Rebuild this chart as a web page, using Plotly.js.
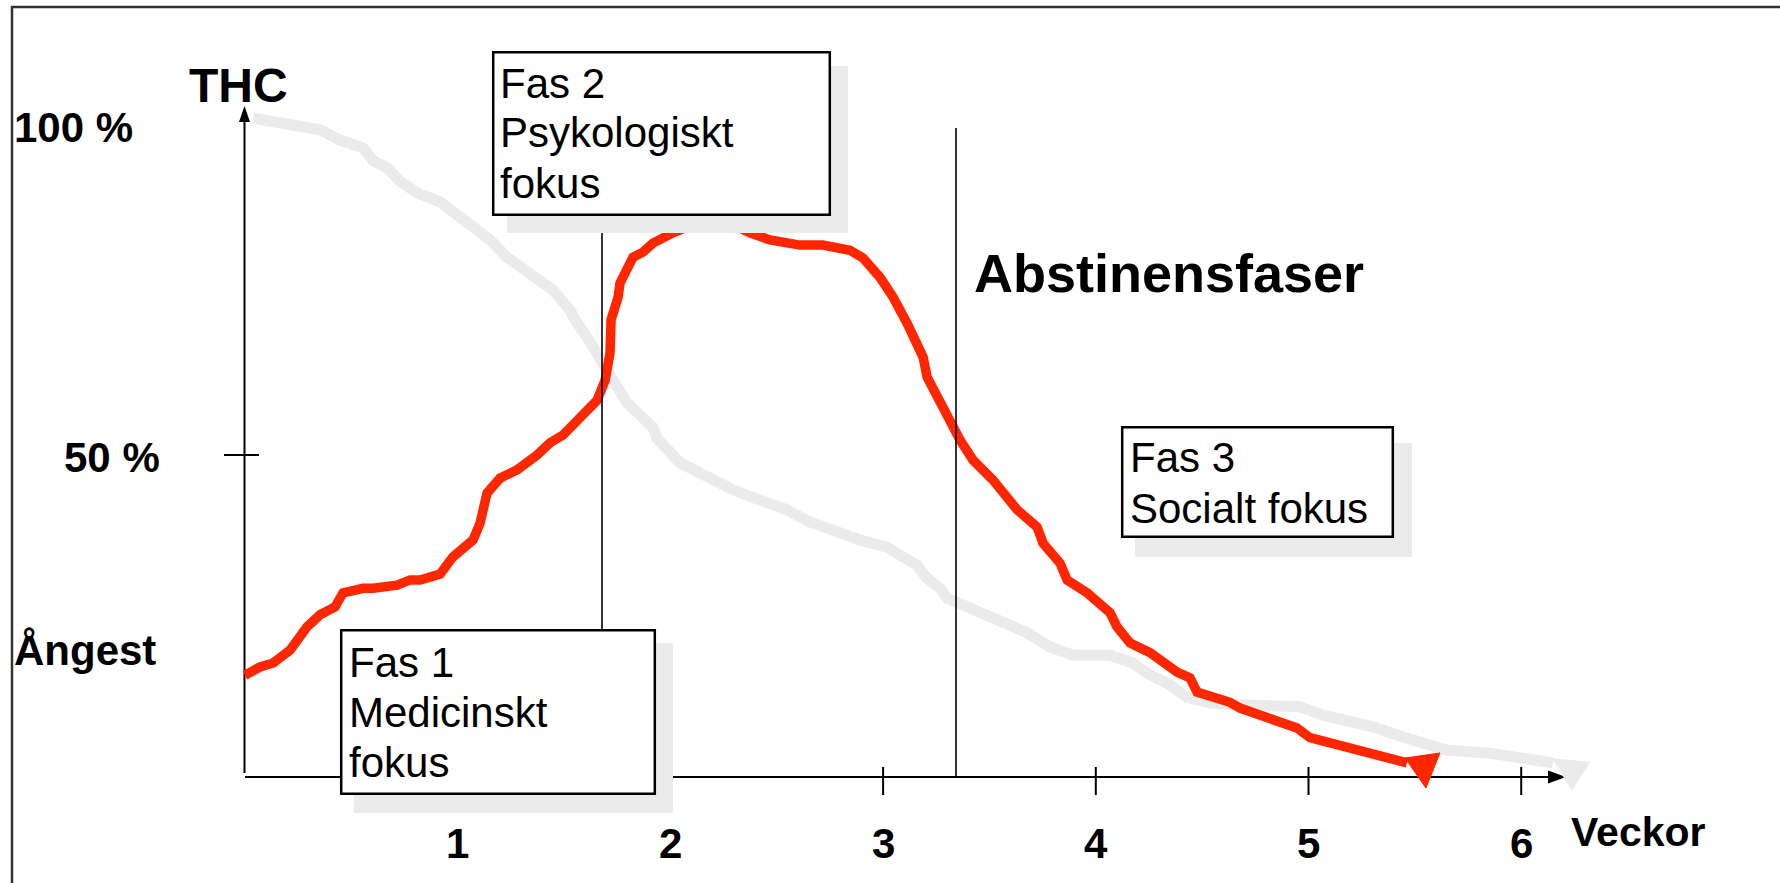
<!DOCTYPE html>
<html>
<head>
<meta charset="utf-8">
<script src="https://cdn.plot.ly/plotly-3.0.1.min.js"></script>
<style>
  html, body { margin: 0; padding: 0; background: #fff; }
  #chart { width: 1780px; height: 883px; }
</style>
</head>
<body>
<div id="chart"></div>
<script>
// ---------------- data (weeks on x, percent on y) ----------------
const tickWeeks = [1, 2, 3, 4, 5, 6];
const tickLabels = ['1', '2', '3', '4', '5', '6'];
const tickMarkWeeks = [3, 4, 5, 6];

const yLabelValues = [100, 50];
const yLabelTexts = ['100 %', '50 %'];

// THC level (light grey curve)
const thcWeeks = [0.038, 0.212, 0.291, 0.353, 0.447, 0.555, 0.602, 0.668, 0.729, 0.809,
  0.917, 0.997, 1.072, 1.152, 1.232, 1.307, 1.387, 1.448, 1.528, 1.551,
  1.608, 1.655, 1.702, 1.749, 1.796, 1.918, 1.937, 2.045, 2.172, 2.294,
  2.421, 2.548, 2.656, 2.783, 2.891, 3.018, 3.079, 3.159, 3.206, 3.268,
  3.300, 3.394, 3.550, 3.677, 3.785, 3.893, 4.067, 4.175, 4.241, 4.335,
  4.429, 4.537, 4.678, 4.805, 4.960, 5.068, 5.303, 5.444, 5.585, 5.651,
  5.853, 5.933, 6.088, 6.149];
const thcLevel = [102.3, 101.2, 101.1, 100.5, 98.9, 97.7, 95.7, 94.6, 92.5, 90.7,
  89.3, 87.4, 85.1, 83.4, 80.7, 79.0, 76.7, 75.6, 72.5, 71.0,
  68.3, 65.8, 63.7, 60.6, 58.1, 54.3, 52.6, 48.8, 46.6, 44.6,
  43.0, 41.5, 39.6, 38.0, 36.8, 35.7, 34.5, 32.9, 30.9, 29.3,
  27.8, 26.4, 23.9, 22.4, 20.2, 18.9, 18.9, 17.7, 16.1, 14.6,
  12.4, 11.5, 11.2, 11.2, 10.9, 9.6, 7.8, 6.2, 5.0, 4.2,
  3.7, 3.4, 2.6, 2.2];
const thcArrowWeeks = [6.149, 6.323, 6.238, 6.149];
const thcArrowLevel = [2.8, 2.3, -2.0, 2.8];

// Ångest (anxiety, red curve)
const angestWeeks = [0.000, 0.071, 0.132, 0.212, 0.291, 0.353, 0.423, 0.461, 0.555, 0.602,
  0.715, 0.776, 0.823, 0.917, 0.978, 1.072, 1.105, 1.138, 1.199, 1.279,
  1.373, 1.434, 1.495, 1.561, 1.622, 1.655, 1.693, 1.716, 1.721, 1.754,
  1.763, 1.824, 1.871, 1.918, 2.012, 2.092, 2.186, 2.304, 2.374, 2.468,
  2.609, 2.717, 2.844, 2.905, 2.985, 3.047, 3.112, 3.160, 3.188, 3.207,
  3.254, 3.282, 3.315, 3.362, 3.423, 3.517, 3.630, 3.724, 3.752, 3.832,
  3.865, 3.959, 4.067, 4.100, 4.161, 4.255, 4.382, 4.443, 4.476, 4.631,
  4.678, 4.833, 4.946, 5.007, 5.087, 5.289, 5.336, 5.463];
const angestLevel = [15.8, 17.1, 17.7, 19.7, 23.3, 25.2, 26.4, 28.6, 29.3, 29.3,
  29.8, 30.6, 30.6, 31.5, 34.2, 36.8, 39.4, 44.1, 46.4, 47.7,
  50.0, 51.9, 53.1, 55.4, 57.0, 58.5, 61.6, 65.8, 71.0, 74.5,
  76.7, 80.7, 81.5, 82.9, 84.5, 85.6, 86.0, 85.6, 84.5, 83.4,
  82.6, 82.6, 81.8, 80.6, 77.6, 74.5, 70.5, 67.1, 65.2, 62.1,
  59.0, 57.5, 55.4, 52.3, 49.2, 46.1, 41.5, 38.8, 36.3, 33.2,
  30.6, 28.6, 25.5, 23.3, 20.8, 19.3, 16.3, 15.4, 13.2, 11.6,
  10.7, 8.9, 7.6, 6.1, 5.4, 3.7, 3.1, 2.2];
const angestArrowWeeks = [5.454, 5.618, 5.552, 5.454];
const angestArrowLevel = [2.95, 3.73, -1.71, 2.95];

// phase texts
const phaseLines = [
  ['Fas 2', 'Psykologiskt', 'fokus'],
  ['Fas 1', 'Medicinskt', 'fokus'],
  ['Fas 3', 'Socialt fokus']
];

// ---------------- layout helpers (pixel -> axis units) ----------------
const X0 = 245, XS = 212.7, Y0 = 777, YS = 6.44;
const X = px => (px - X0) / XS;
const Y = py => (Y0 - py) / YS;

const FONT = 'Liberation Sans, Arial, Helvetica, sans-serif';
const RED = '#FF2600';
const GREY = '#EBEBEB';

const traces = [
  { x: thcWeeks, y: thcLevel, mode: 'lines', type: 'scatter', hoverinfo: 'skip',
    line: { color: GREY, width: 11 } },
  { x: thcArrowWeeks, y: thcArrowLevel, mode: 'lines', type: 'scatter', fill: 'toself',
    fillcolor: GREY, hoverinfo: 'skip', line: { color: GREY, width: 1 } },
  { x: angestWeeks, y: angestLevel, mode: 'lines', type: 'scatter', hoverinfo: 'skip',
    line: { color: RED, width: 9.5 } },
  { x: angestArrowWeeks, y: angestArrowLevel, mode: 'lines', type: 'scatter', fill: 'toself',
    fillcolor: RED, hoverinfo: 'skip', line: { color: RED, width: 1 } }
];

const shapes = [];
function line(x0, y0, x1, y1, w, layer, color) {
  shapes.push({ type: 'line', xref: 'x', yref: 'y', x0: x0, y0: y0, x1: x1, y1: y1,
    layer: layer || 'below', line: { color: color || '#000', width: w } });
}
function path(d, fill, layer, lineColor, lw) {
  shapes.push({ type: 'path', xref: 'x', yref: 'y', path: d, layer: layer || 'below',
    fillcolor: fill, line: { color: lineColor || 'rgba(0,0,0,0)', width: lw || 0 } });
}
function rect(px0, py0, px1, py1, fill, lineColor, lw) {
  shapes.push({ type: 'rect', xref: 'x', yref: 'y', x0: X(px0), x1: X(px1), y0: Y(py1), y1: Y(py0),
    layer: 'above', fillcolor: fill, line: { color: lineColor || 'rgba(0,0,0,0)', width: lw || 0 } });
}
const P = (px, py) => X(px) + ',' + Y(py);

// outer frame
path('M' + P(12, 900) + ' L' + P(12, 7) + ' L' + P(1800, 7), 'rgba(0,0,0,0)', 'below', '#333', 2.5);

// y axis with arrow
line(X(244.5), Y(773), X(244.5), Y(118), 2);
path('M' + P(239, 122) + ' L' + P(250, 122) + ' L' + P(244.5, 106) + ' Z', '#000');
// 50 % tick
line(X(224), 50, X(259), 50, 2);
// x axis with arrow
line(X(245), 0, X(1552), 0, 2.2);
path('M' + P(1548, 770.5) + ' L' + P(1548, 783.5) + ' L' + P(1566, 777) + ' Z', '#000');
// tick marks crossing the axis
tickMarkWeeks.forEach(w => line(w, Y(767), w, Y(795), 2));

// phase separator lines (above the curves)
line(X(602), Y(230), X(602), 0, 1.6, 'above');
line(X(956), Y(128), X(956), 0, 1.6, 'above');

// boxes with shadows
const boxes = [
  { box: [492, 51, 831, 216], shadow: [507, 66, 848, 233] },
  { box: [340, 629, 656, 795], shadow: [354, 643, 673, 813] },
  { box: [1121, 426, 1394, 538], shadow: [1135, 443, 1412, 557] }
];
boxes.forEach(b => {
  rect(b.shadow[0], b.shadow[1], b.shadow[2], b.shadow[3], GREY);
  rect(b.box[0] + 1.2, b.box[1] + 1.2, b.box[2] - 1.2, b.box[3] - 1.2, '#fff', '#000', 2.5);
});

// ---------------- annotations ----------------
const annotations = [];
function txt(text, px, py, size, bold, xanchor, xval, yval) {
  annotations.push({
    x: xval !== undefined ? xval : X(px), y: yval !== undefined ? yval : Y(py),
    xref: 'x', yref: 'y', text: text, showarrow: false,
    xanchor: xanchor || 'left', yanchor: 'middle',
    borderpad: 0, borderwidth: 0,
    font: { family: FONT, size: size, color: '#000', weight: bold ? 'bold' : 'normal' }
  });
}
const phaseTextPos = [
  { x: 500, ys: [83, 132, 183] },
  { x: 349, ys: [662, 712, 762] },
  { x: 1130, ys: [457, 508] }
];
phaseLines.forEach((lines, i) => {
  lines.forEach((t, j) => txt(t, phaseTextPos[i].x, phaseTextPos[i].ys[j], 42, false));
});

txt('THC', 189, 85, 48, true);
txt(yLabelTexts[0], 14, 128, 42, true, 'left', X(14), yLabelValues[0] + 0.8);
txt(yLabelTexts[1], 64, 458, 42, true, 'left', X(64), yLabelValues[1] - 0.45);
txt('Ångest', 14, 650, 42, true);
txt('Abstinensfaser', 974, 273, 54, true);
txt('Veckor', 1571, 832, 41, true);
tickWeeks.forEach((w, i) => txt(tickLabels[i], 0, 843, 42, true, 'center', w, Y(843)));

const layout = {
  width: 1780, height: 883,
  margin: { l: 0, r: 0, t: 0, b: 0, pad: 0 },
  paper_bgcolor: '#fff', plot_bgcolor: '#fff',
  showlegend: false,
  xaxis: { range: [X(0), X(1780)], visible: false, fixedrange: true },
  yaxis: { range: [Y(883), Y(0)], visible: false, fixedrange: true },
  shapes: shapes,
  annotations: annotations,
  hovermode: false
};

Plotly.newPlot('chart', traces, layout, { staticPlot: true, displayModeBar: false });
</script>
</body>
</html>
